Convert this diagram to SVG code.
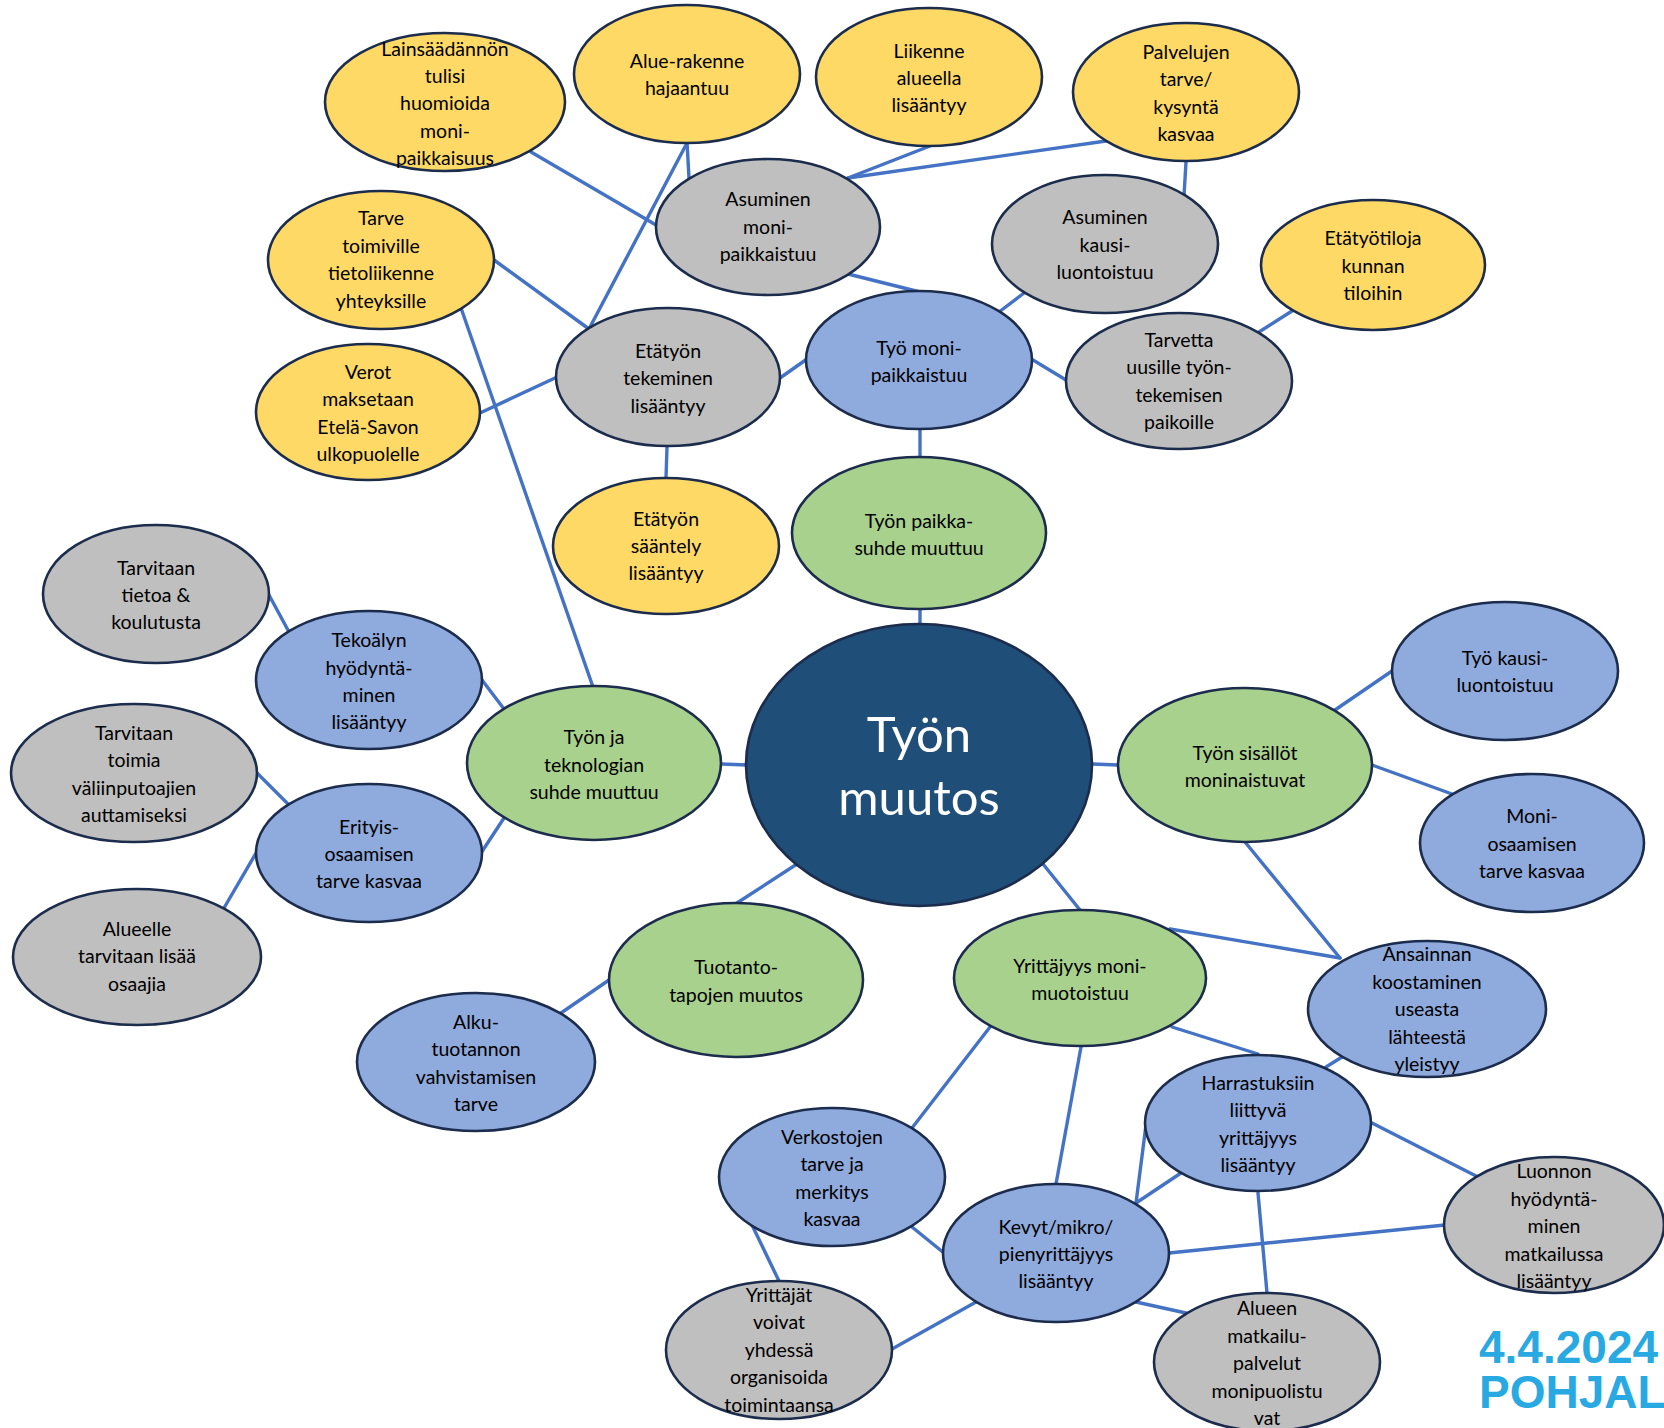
<svg xmlns="http://www.w3.org/2000/svg" width="1664" height="1428" viewBox="0 0 1664 1428">
<style>
.n{stroke:#1c2c4c;stroke-width:2.6}
.y{fill:#FFD966}.g{fill:#BFBFBF}.b{fill:#8FAADC}.gr{fill:#A9D18E}.c{fill:#1F4E79}
.e line{stroke:#4472C4;stroke-width:3.4;stroke-linecap:round}
.t{font-family:Lato,"Open Sans","Liberation Sans",sans-serif;font-size:19.5px;fill:#000;text-anchor:middle}
.ct{font-family:Lato,"Open Sans","Liberation Sans",sans-serif;font-size:49px;fill:#fff;text-anchor:middle}
.d{font-family:"Liberation Sans",Arial,sans-serif;font-weight:bold;font-size:46px;fill:#29A9E1}
</style>
<rect width="1664" height="1428" fill="#fff"/>
<g id="connectors" class="e">
<line x1="531" y1="152" x2="656" y2="225"/>
<line x1="687" y1="142" x2="689" y2="178"/>
<line x1="687" y1="143" x2="589" y2="329"/>
<line x1="494" y1="260" x2="589" y2="329"/>
<line x1="461" y1="308" x2="593" y2="687"/>
<line x1="480" y1="413" x2="555" y2="378"/>
<line x1="667" y1="447" x2="666" y2="478"/>
<line x1="780" y1="378" x2="807" y2="359"/>
<line x1="848" y1="274" x2="920" y2="292"/>
<line x1="848" y1="178" x2="930" y2="146"/>
<line x1="848" y1="178" x2="1106" y2="141"/>
<line x1="1186" y1="162" x2="1184" y2="196"/>
<line x1="1024" y1="293" x2="999" y2="312"/>
<line x1="1033" y1="360" x2="1066" y2="380"/>
<line x1="1259" y1="332" x2="1292" y2="311"/>
<line x1="920" y1="429" x2="920" y2="457"/>
<line x1="920" y1="609" x2="920" y2="624"/>
<line x1="269" y1="595" x2="289" y2="632"/>
<line x1="482" y1="680" x2="504" y2="709"/>
<line x1="257" y1="773" x2="289" y2="805"/>
<line x1="256" y1="853" x2="224" y2="908"/>
<line x1="481" y1="853" x2="504" y2="818"/>
<line x1="721" y1="764" x2="747" y2="765"/>
<line x1="797" y1="864" x2="737" y2="903"/>
<line x1="1092" y1="764" x2="1118" y2="765"/>
<line x1="1335" y1="710" x2="1392" y2="671"/>
<line x1="1372" y1="765" x2="1452" y2="794"/>
<line x1="1245" y1="842" x2="1340" y2="958"/>
<line x1="1043" y1="864" x2="1080" y2="910"/>
<line x1="1170" y1="929" x2="1340" y2="958"/>
<line x1="1172" y1="1027" x2="1258" y2="1054"/>
<line x1="1342" y1="1057" x2="1326" y2="1067"/>
<line x1="1081" y1="1047" x2="1056" y2="1184"/>
<line x1="990" y1="1027" x2="912" y2="1128"/>
<line x1="1146" y1="1125" x2="1136" y2="1203"/>
<line x1="1181" y1="1173" x2="1136" y2="1203"/>
<line x1="1372" y1="1123" x2="1478" y2="1177"/>
<line x1="1169" y1="1253" x2="1445" y2="1225"/>
<line x1="1258" y1="1193" x2="1267" y2="1293"/>
<line x1="1136" y1="1302" x2="1186" y2="1313"/>
<line x1="976" y1="1302" x2="892" y2="1349"/>
<line x1="912" y1="1227" x2="944" y2="1253"/>
<line x1="752" y1="1225" x2="779" y2="1281"/>
<line x1="609" y1="980" x2="561" y2="1013"/>
</g>

<g id="n-lainsaadanto"><ellipse class="n y" cx="445" cy="102" rx="120" ry="69"/><text class="t"><tspan x="445" y="56">Lainsäädännön</tspan><tspan x="445" y="83">tulisi</tspan><tspan x="445" y="110">huomioida</tspan><tspan x="445" y="138">moni-</tspan><tspan x="445" y="165">paikkaisuus</tspan></text></g>
<g id="n-aluerakenne"><ellipse class="n y" cx="687" cy="74" rx="113" ry="69"/><text class="t"><tspan x="687" y="68">Alue-rakenne</tspan><tspan x="687" y="95">hajaantuu</tspan></text></g>
<g id="n-liikenne"><ellipse class="n y" cx="929" cy="77" rx="113" ry="69"/><text class="t"><tspan x="929" y="58">Liikenne</tspan><tspan x="929" y="85">alueella</tspan><tspan x="929" y="112">lisääntyy</tspan></text></g>
<g id="n-palvelujen"><ellipse class="n y" cx="1186" cy="92" rx="113" ry="69"/><text class="t"><tspan x="1186" y="59">Palvelujen</tspan><tspan x="1186" y="86">tarve/</tspan><tspan x="1186" y="114">kysyntä</tspan><tspan x="1186" y="141">kasvaa</tspan></text></g>
<g id="n-tarvetoimiville"><ellipse class="n y" cx="381" cy="260" rx="113" ry="69"/><text class="t"><tspan x="381" y="225">Tarve</tspan><tspan x="381" y="253">toimiville</tspan><tspan x="381" y="280">tietoliikenne</tspan><tspan x="381" y="308">yhteyksille</tspan></text></g>
<g id="n-verot"><ellipse class="n y" cx="368" cy="412" rx="112" ry="68"/><text class="t"><tspan x="368" y="379">Verot</tspan><tspan x="368" y="406">maksetaan</tspan><tspan x="368" y="434">Etelä-Savon</tspan><tspan x="368" y="461">ulkopuolelle</tspan></text></g>
<g id="n-etatyonsaantely"><ellipse class="n y" cx="666" cy="546" rx="113" ry="68"/><text class="t"><tspan x="666" y="526">Etätyön</tspan><tspan x="666" y="553">sääntely</tspan><tspan x="666" y="580">lisääntyy</tspan></text></g>
<g id="n-etatyotiloja"><ellipse class="n y" cx="1373" cy="265" rx="112" ry="65"/><text class="t"><tspan x="1373" y="245">Etätyötiloja</tspan><tspan x="1373" y="273">kunnan</tspan><tspan x="1373" y="300">tiloihin</tspan></text></g>

<g id="n-asuminenmoni"><ellipse class="n g" cx="768" cy="227" rx="112" ry="68"/><text class="t"><tspan x="768" y="206">Asuminen</tspan><tspan x="768" y="234">moni-</tspan><tspan x="768" y="261">paikkaistuu</tspan></text></g>
<g id="n-asuminenkausi"><ellipse class="n g" cx="1105" cy="244" rx="113" ry="69"/><text class="t"><tspan x="1105" y="224">Asuminen</tspan><tspan x="1105" y="252">kausi-</tspan><tspan x="1105" y="279">luontoistuu</tspan></text></g>
<g id="n-etatyontekeminen"><ellipse class="n g" cx="668" cy="377" rx="112" ry="69"/><text class="t"><tspan x="668" y="358">Etätyön</tspan><tspan x="668" y="385">tekeminen</tspan><tspan x="668" y="413">lisääntyy</tspan></text></g>
<g id="n-tarvetta"><ellipse class="n g" cx="1179" cy="381" rx="113" ry="68"/><text class="t"><tspan x="1179" y="347">Tarvetta</tspan><tspan x="1179" y="374">uusille työn-</tspan><tspan x="1179" y="402">tekemisen</tspan><tspan x="1179" y="429">paikoille</tspan></text></g>
<g id="n-tietoa"><ellipse class="n g" cx="156" cy="594" rx="113" ry="69"/><text class="t"><tspan x="156" y="575">Tarvitaan</tspan><tspan x="156" y="602">tietoa &amp;</tspan><tspan x="156" y="629">koulutusta</tspan></text></g>
<g id="n-toimia"><ellipse class="n g" cx="134" cy="773" rx="123" ry="69"/><text class="t"><tspan x="134" y="740">Tarvitaan</tspan><tspan x="134" y="767">toimia</tspan><tspan x="134" y="795">väliinputoajien</tspan><tspan x="134" y="822">auttamiseksi</tspan></text></g>
<g id="n-alueelle"><ellipse class="n g" cx="137" cy="957" rx="124" ry="68"/><text class="t"><tspan x="137" y="936">Alueelle</tspan><tspan x="137" y="963">tarvitaan lisää</tspan><tspan x="137" y="991">osaajia</tspan></text></g>
<g id="n-yrittajat"><ellipse class="n g" cx="779" cy="1350" rx="113" ry="69"/><text class="t"><tspan x="779" y="1302">Yrittäjät</tspan><tspan x="779" y="1329">voivat</tspan><tspan x="779" y="1357">yhdessä</tspan><tspan x="779" y="1384">organisoida</tspan><tspan x="779" y="1412">toimintaansa</tspan></text></g>
<g id="n-alueen"><ellipse class="n g" cx="1267" cy="1362" rx="113" ry="69"/><text class="t"><tspan x="1267" y="1315">Alueen</tspan><tspan x="1267" y="1343">matkailu-</tspan><tspan x="1267" y="1370">palvelut</tspan><tspan x="1267" y="1398">monipuolistu</tspan><tspan x="1267" y="1425">vat</tspan></text></g>
<g id="n-luonnon"><ellipse class="n g" cx="1554" cy="1225" rx="110" ry="68"/><text class="t"><tspan x="1554" y="1178">Luonnon</tspan><tspan x="1554" y="1206">hyödyntä-</tspan><tspan x="1554" y="1233">minen</tspan><tspan x="1554" y="1261">matkailussa</tspan><tspan x="1554" y="1288">lisääntyy</tspan></text></g>

<g id="n-tyomoni"><ellipse class="n b" cx="919" cy="360" rx="113" ry="69"/><text class="t"><tspan x="919" y="355">Työ moni-</tspan><tspan x="919" y="382">paikkaistuu</tspan></text></g>
<g id="n-tekoaly"><ellipse class="n b" cx="369" cy="680" rx="113" ry="69"/><text class="t"><tspan x="369" y="647">Tekoälyn</tspan><tspan x="369" y="675">hyödyntä-</tspan><tspan x="369" y="702">minen</tspan><tspan x="369" y="729">lisääntyy</tspan></text></g>
<g id="n-erityis"><ellipse class="n b" cx="369" cy="853" rx="113" ry="69"/><text class="t"><tspan x="369" y="834">Erityis-</tspan><tspan x="369" y="861">osaamisen</tspan><tspan x="369" y="888">tarve kasvaa</tspan></text></g>
<g id="n-alku"><ellipse class="n b" cx="476" cy="1062" rx="119" ry="69"/><text class="t"><tspan x="476" y="1029">Alku-</tspan><tspan x="476" y="1056">tuotannon</tspan><tspan x="476" y="1084">vahvistamisen</tspan><tspan x="476" y="1111">tarve</tspan></text></g>
<g id="n-verkostojen"><ellipse class="n b" cx="832" cy="1177" rx="113" ry="69"/><text class="t"><tspan x="832" y="1144">Verkostojen</tspan><tspan x="832" y="1171">tarve ja</tspan><tspan x="832" y="1199">merkitys</tspan><tspan x="832" y="1226">kasvaa</tspan></text></g>
<g id="n-kevyt"><ellipse class="n b" cx="1056" cy="1253" rx="113" ry="69"/><text class="t"><tspan x="1056" y="1234">Kevyt/mikro/</tspan><tspan x="1056" y="1261">pienyrittäjyys</tspan><tspan x="1056" y="1288">lisääntyy</tspan></text></g>
<g id="n-harrastuksiin"><ellipse class="n b" cx="1258" cy="1123" rx="113" ry="68"/><text class="t"><tspan x="1258" y="1090">Harrastuksiin</tspan><tspan x="1258" y="1117">liittyvä</tspan><tspan x="1258" y="1145">yrittäjyys</tspan><tspan x="1258" y="1172">lisääntyy</tspan></text></g>
<g id="n-ansainnan"><ellipse class="n b" cx="1427" cy="1009" rx="119" ry="68"/><text class="t"><tspan x="1427" y="961">Ansainnan</tspan><tspan x="1427" y="989">koostaminen</tspan><tspan x="1427" y="1016">useasta</tspan><tspan x="1427" y="1044">lähteestä</tspan><tspan x="1427" y="1071">yleistyy</tspan></text></g>
<g id="n-tyokausi"><ellipse class="n b" cx="1505" cy="671" rx="113" ry="69"/><text class="t"><tspan x="1505" y="665">Työ kausi-</tspan><tspan x="1505" y="692">luontoistuu</tspan></text></g>
<g id="n-moniosaamisen"><ellipse class="n b" cx="1532" cy="843" rx="112" ry="69"/><text class="t"><tspan x="1532" y="823">Moni-</tspan><tspan x="1532" y="851">osaamisen</tspan><tspan x="1532" y="878">tarve kasvaa</tspan></text></g>

<g id="n-paikkasuhde"><ellipse class="n gr" cx="919" cy="533" rx="127" ry="76"/><text class="t"><tspan x="919" y="528">Työn paikka-</tspan><tspan x="919" y="555">suhde muuttuu</tspan></text></g>
<g id="n-teknologia"><ellipse class="n gr" cx="594" cy="763" rx="127" ry="77"/><text class="t"><tspan x="594" y="744">Työn ja</tspan><tspan x="594" y="772">teknologian</tspan><tspan x="594" y="799">suhde muuttuu</tspan></text></g>
<g id="n-sisallot"><ellipse class="n gr" cx="1245" cy="765" rx="127" ry="77"/><text class="t"><tspan x="1245" y="760">Työn sisällöt</tspan><tspan x="1245" y="787">moninaistuvat</tspan></text></g>
<g id="n-tuotanto"><ellipse class="n gr" cx="736" cy="980" rx="127" ry="77"/><text class="t"><tspan x="736" y="974">Tuotanto-</tspan><tspan x="736" y="1002">tapojen muutos</tspan></text></g>
<g id="n-yrittajyys"><ellipse class="n gr" cx="1080" cy="978" rx="126" ry="68"/><text class="t"><tspan x="1080" y="973">Yrittäjyys moni-</tspan><tspan x="1080" y="1000">muotoistuu</tspan></text></g>

<g id="n-center"><ellipse class="n c" cx="919" cy="765" rx="173" ry="141"/><text class="ct"><tspan x="919" y="752">Työn</tspan><tspan x="919" y="815">muutos</tspan></text></g>

<g id="date"><text class="d"><tspan x="1479" y="1363">4.4.2024</tspan><tspan x="1479" y="1408">POHJAL</tspan></text></g>
</svg>
